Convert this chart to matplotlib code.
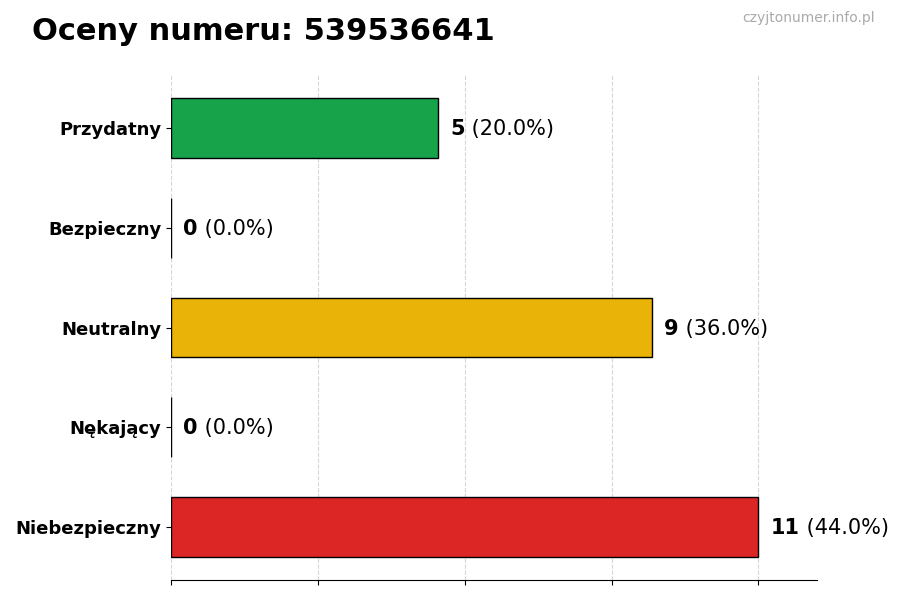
import matplotlib
matplotlib.use("Agg")
import matplotlib.pyplot as plt
import numpy as np

categories = ["Przydatny", "Bezpieczny", "Neutralny", "Nękający", "Niebezpieczny"]
counts = [5, 0, 9, 0, 11]
bar_colors = ["#16a34a", "#16a34a", "#eab308", "#dc2626", "#dc2626"]
title = "Oceny numeru: 539536641"
watermark = "czyjtonumer.info.pl"

total = sum(counts)
ypos = np.arange(len(categories))

fig = plt.figure(figsize=(9, 6), dpi=100)
ax = fig.add_axes([0.19, 0.0333, 0.718, 0.8417])

ax.barh(ypos, counts, height=0.6, color=bar_colors, edgecolor="black", linewidth=1, zorder=3)
ax.set_yticks(ypos)
ax.set_yticklabels(categories, fontsize=13, fontweight="bold")
ax.invert_yaxis()

xmax = max(counts)
ax.set_xlim(0, xmax * 1.1)
ax.set_xticks(np.linspace(0, xmax, 5))
ax.set_xticklabels([])
ax.grid(axis="x", linestyle="--", color="#bbbbbb", alpha=0.6, linewidth=0.8, zorder=0)

for s in ["top", "right", "left"]:
    ax.spines[s].set_visible(False)

off = xmax * 0.021
for y, c in zip(ypos, counts):
    pct = 100.0 * c / total if total else 0
    t = ax.text(c + off, y + 0.01, str(c), fontsize=15, fontweight="bold", va="center", ha="left")
    ax.annotate(" (%.1f%%)" % pct, xycoords=t, xy=(1, 0.5), va="center", ha="left", fontsize=15)

fig.text(0.035, 0.947, title, fontsize=22, fontweight="bold", va="center", ha="left")
fig.text(0.972, 0.97, watermark, fontsize=10, color="#aaaaaa", va="center", ha="right")

fig.savefig("out.png", dpi=100)
